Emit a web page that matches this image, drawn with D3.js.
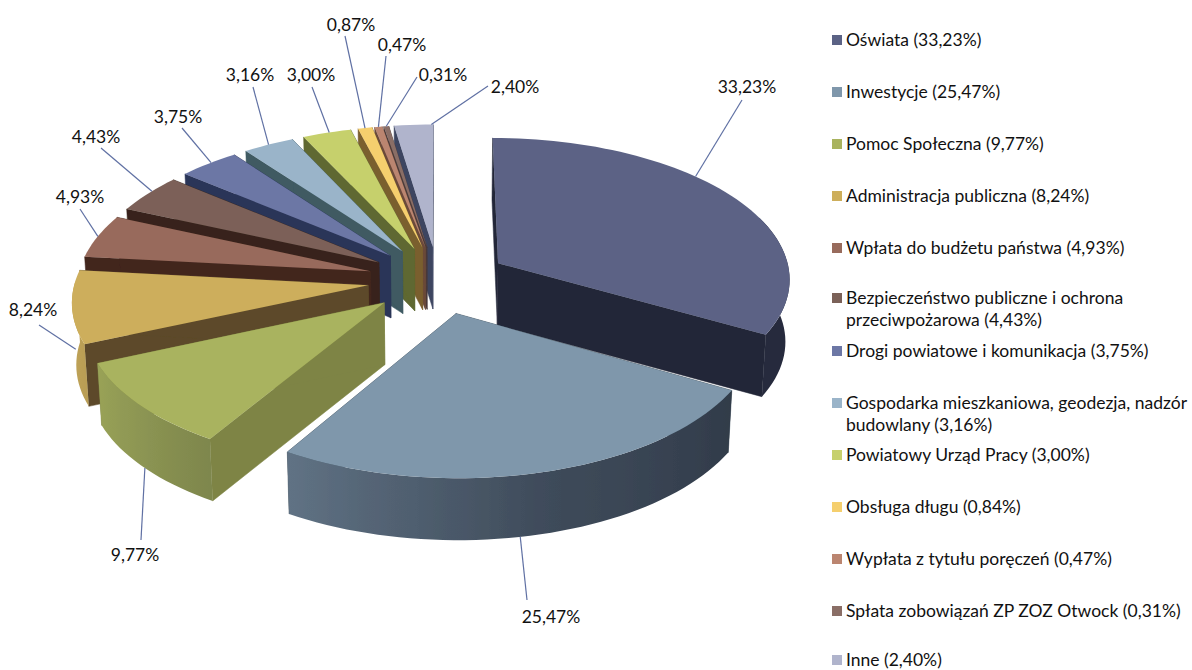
<!DOCTYPE html>
<html lang="pl">
<head>
<meta charset="utf-8">
<style>
  body { margin: 0; background: #fff; font-family: Lato, "Open Sans", sans-serif; }
  text { fill: #111; }
</style>
<title>Struktura wydatków</title>
<script src="https://cdnjs.cloudflare.com/ajax/libs/d3/7.8.5/d3.min.js"></script>
</head>
<body>
<svg id="chart" width="1192" height="670"></svg>
<script>
// values
var sliceValues = [33.23, 25.47, 9.77, 8.24, 4.93, 4.43, 3.75, 3.16, 3.00, 0.87, 0.47, 0.31, 2.40];
var sliceLabels = ["33,23%", "25,47%", "9,77%", "8,24%", "4,93%", "4,43%", "3,75%", "3,16%", "3,00%", "0,87%", "0,47%", "0,31%", "2,40%"];
var legendLines = [
  ["Oświata (33,23%)"],
  ["Inwestycje (25,47%)"],
  ["Pomoc Społeczna (9,77%)"],
  ["Administracja publiczna (8,24%)"],
  ["Wpłata do budżetu państwa (4,93%)"],
  ["Bezpieczeństwo publiczne i ochrona", "przeciwpożarowa (4,43%)"],
  ["Drogi powiatowe i komunikacja (3,75%)"],
  ["Gospodarka mieszkaniowa, geodezja, nadzór", "budowlany (3,16%)"],
  ["Powiatowy Urząd Pracy (3,00%)"],
  ["Obsługa długu (0,84%)"],
  ["Wypłata z tytułu poręczeń (0,47%)"],
  ["Spłata zobowiązań ZP ZOZ Otwock (0,31%)"],
  ["Inne (2,40%)"]
];
var topColors = ["#5b6285", "#7f97ab", "#a9b35e", "#cdae5b", "#986b5c", "#7b6158", "#6c77a5", "#9ab4c9", "#c6d06c", "#f5cf6e", "#bb8570", "#8a6e66", "#b0b4cc"];
var wallColors = ["#232739", "#3a4a56", "#7e8445", "#5d4a2a", "#43261f", "#38241c", "#2b3558", "#3f5a62", "#5f6830", "#7a5f2f", "#6b4a3a", "#4a3a3a", "#3d4560"];

// label placement
var labelX = [747, 551, 135, 33, 80, 96, 178, 250, 311, 351, 402, 443, 515];
var labelY = [87, 617, 555, 310, 197, 137, 117, 75, 75, 25, 45, 75, 87];
var leaderFromX = [742, 527, 141, 39, 80, 101, 182, 253, 312, 345, 386, 417, 488];
var leaderFromY = [100, 600, 540, 325, 209, 148, 128, 87, 87, 36, 56, 77, 86];
var leaderFrac = [0.4, 0.54, 0.49, 0.35, 0.5, 0.58, 0.55, 0.5, 0.55, 0.5, 0.5, 0.5, 0.95];
var leaderDepth = [0, 1, 1, 0.5, 0, 0, 0, 0, 0, 0, 0, 0, 0];

var legendY = [40, 92, 144, 196, 248, 298, 351, 403, 455, 507, 559, 611, 660];

var width = 1192, height = 670;
var cx = 438, cy = 280, rx = 293, ry = 141, persp = 0.1, explode = 0.24, depth = 62, taper = 0.012;
var wallFrom = 70 * Math.PI / 180, wallTo = 272 * Math.PI / 180;

var svg = d3.select("#chart");
var defs = svg.append("defs");
defs.append("filter").attr("id", "soft")
  .append("feGaussianBlur").attr("stdDeviation", 0.6);

var pie = d3.pie().sort(null).value(function(d) { return d; });
var arcs = pie(sliceValues);

var sx = d3.scaleLinear().domain([-1, 1]).range([-rx, rx]);
var sy = d3.scaleLinear().domain([-1, 1]).range([-ry, ry]);

// unit disc (x right, z to the viewer) + height fraction h -> screen
function project(x, z, h) {
  var s = 1 / (1 - persp * z);
  return [cx + sx(x) * s * (1 - h * taper), cy + sy(z) * s + h * depth];
}

function offset(d) {
  var mid = (d.startAngle + d.endAngle) / 2;
  return [Math.sin(mid) * explode, -Math.cos(mid) * explode];
}

function rim(d, a, h) {
  var o = offset(d);
  return project(o[0] + Math.sin(a), o[1] - Math.cos(a), h);
}

function apex(d, h) {
  var o = offset(d);
  return project(o[0], o[1], h);
}

var line = d3.line().curve(d3.curveLinearClosed);

// light on the outer wall depends on where it faces
var wallLight = d3.scaleLinear()
  .domain([70, 120, 165, 211, 230, 247, 272])
  .range([0.3, 0.3, 0.42, 0.72, 0.82, 0.9, 0.97]);

function wallColor(i, a) {
  return d3.interpolateRgb("#101420", topColors[i])(wallLight(a * 180 / Math.PI));
}

function sweep(from, to) {
  var steps = Math.max(3, Math.ceil((to - from) * 30));
  return d3.range(steps + 1).map(function(k) { return from + (to - from) * k / steps; });
}

// back slices first, near ones paint over
var order = d3.range(arcs.length).sort(function(a, b) {
  return offset(arcs[a])[1] - offset(arcs[b])[1];
});

var slices = svg.append("g").attr("filter", "url(#soft)")
  .selectAll("g").data(order).enter().append("g");

slices.each(function(i) {
  var d = arcs[i], g = d3.select(this);

  [d.startAngle, d.endAngle].forEach(function(a) {
    var pts = [apex(d, 0), rim(d, a, 0), rim(d, a, 1), apex(d, 1)];
    g.append("path").attr("d", line(pts))
      .attr("fill", wallColors[i]).attr("stroke", wallColors[i]).attr("stroke-width", 0.5);
  });

  // only the part of the outer wall that faces the viewer
  var a0 = Math.max(d.startAngle, wallFrom), a1 = Math.min(d.endAngle, wallTo);
  if (a1 > a0) {
    var wa = sweep(a0, a1);
    var xs = wa.map(function(a) { return rim(d, a, 0)[0]; });
    var gradId = "wall" + i;
    var grad = defs.append("linearGradient").attr("id", gradId)
      .attr("gradientUnits", "userSpaceOnUse")
      .attr("x1", d3.min(xs)).attr("x2", d3.max(xs)).attr("y1", 0).attr("y2", 0);
    var xScale = d3.scaleLinear().domain([d3.min(xs), d3.max(xs)]).range([0, 1]);
    wa.map(function(a, k) { return { at: xScale(xs[k]), color: wallColor(i, a) }; })
      .sort(function(p, q) { return p.at - q.at; })
      .forEach(function(p) {
        grad.append("stop").attr("offset", p.at).attr("stop-color", p.color);
      });
    var outline = wa.map(function(a) { return rim(d, a, 0); })
      .concat(wa.slice().reverse().map(function(a) { return rim(d, a, 1); }));
    g.append("path").attr("d", line(outline)).attr("fill", "url(#" + gradId + ")");
  }

  var top = [apex(d, 0)].concat(sweep(d.startAngle, d.endAngle).map(function(a) { return rim(d, a, 0); }));
  g.append("path").attr("d", line(top)).attr("fill", topColors[i]);
});

// leaders and value labels
svg.append("g").selectAll("line").data(arcs).enter().append("line")
  .attr("x1", function(d, i) { return leaderFromX[i]; })
  .attr("y1", function(d, i) { return leaderFromY[i]; })
  .attr("x2", function(d, i) {
    return rim(d, d.startAngle + (d.endAngle - d.startAngle) * leaderFrac[i], leaderDepth[i])[0];
  })
  .attr("y2", function(d, i) {
    return rim(d, d.startAngle + (d.endAngle - d.startAngle) * leaderFrac[i], leaderDepth[i])[1];
  })
  .attr("stroke", "#5f70a3")
  .attr("stroke-width", 1.2);

svg.append("g").selectAll("text").data(sliceLabels).enter().append("text")
  .attr("x", function(d, i) { return labelX[i]; })
  .attr("y", function(d, i) { return labelY[i]; })
  .attr("dy", "0.35em")
  .attr("text-anchor", "middle")
  .style("font-size", "17.5px")
  .text(function(d) { return d; });

// legend
var legend = svg.append("g").selectAll("g").data(legendLines).enter().append("g")
  .attr("transform", function(d, i) { return "translate(832," + legendY[i] + ")"; });

legend.append("rect")
  .attr("y", -5).attr("width", 10).attr("height", 10)
  .attr("fill", function(d, i) { return topColors[i]; });

legend.selectAll("text").data(function(d) { return d; }).enter().append("text")
  .attr("x", 14)
  .attr("y", function(d, i) { return i * 22; })
  .attr("dy", "0.35em")
  .style("font-size", "17.5px")
  .text(function(d) { return d; });
</script>
</body>
</html>
